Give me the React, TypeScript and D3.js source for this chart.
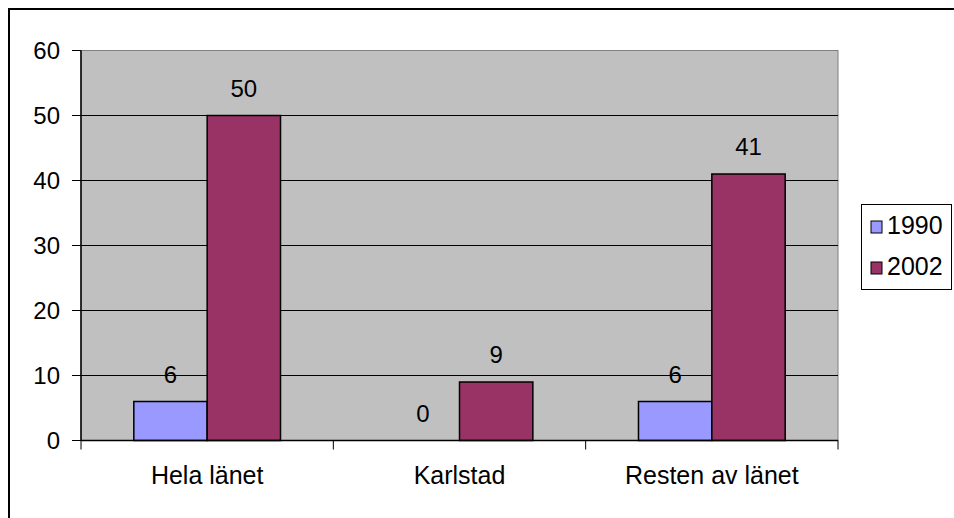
import React from "react";
import * as d3 from "d3";

const categories = ["Hela länet", "Karlstad", "Resten av länet"];
const series = ["1990", "2002"];
const values1990 = [6, 0, 6];
const values2002 = [50, 9, 41];
const yTicks = [0, 10, 20, 30, 40, 50, 60];
const colors = ["#9999FF", "#993366"];

const W = 954;
const H = 518;
const FONT = "Arial, 'Liberation Sans', sans-serif";

export default function App() {
  const left = 81, right = 838, top = 50.5, bottom = 440.5;
  const y = d3.scaleLinear().domain([0, 60]).range([bottom, top]);
  const x0 = d3.scaleBand<string>().domain(categories).range([left, right]).padding(0);
  const x1 = d3
    .scaleBand<string>()
    .domain(series)
    .range([0, x0.bandwidth()])
    .paddingInner(0)
    .paddingOuter(0.72);
  const data = [values1990, values2002];

  return (
    <svg
      width={W}
      height={H}
      style={{ position: "absolute", left: 0, top: 0, display: "block" }}
      fontFamily={FONT}
    >
      <rect x={0} y={0} width={W} height={H} fill="#fff" />
      <rect x={9} y={9} width={W + 20} height={H + 20} fill="none" stroke="#000" strokeWidth={2} />
      {/* plot area */}
      <rect x={left} y={top} width={right - left} height={bottom - top} fill="#C0C0C0" stroke="#808080" strokeWidth={1} />
      {yTicks.map((t) => (
        <g key={t}>
          {t > 0 && t < 60 && (
            <line x1={left} x2={right} y1={y(t)} y2={y(t)} stroke="#000" strokeWidth={1} />
          )}
          <line x1={left - 9} x2={left} y1={y(t)} y2={y(t)} stroke="#000" strokeWidth={1} />
          <text x={60} y={y(t)} dy="0.36em" textAnchor="end" fontSize={24} fill="#000">
            {t}
          </text>
        </g>
      ))}
      {/* bars */}
      {categories.map((c, i) =>
        series.map((s, j) => {
          const v = data[j][i];
          const bx = (x0(c) as number) + (x1(s) as number);
          const bw = x1.bandwidth();
          return (
            <g key={c + s}>
              {v > 0 && (
                <rect
                  x={bx}
                  y={y(v)}
                  width={bw}
                  height={bottom - y(v)}
                  fill={colors[j]}
                  stroke="#000"
                  strokeWidth={1.5}
                />
              )}
              <text x={bx + bw / 2} y={y(v) - 19} textAnchor="middle" fontSize={24} fill="#000">
                {v}
              </text>
            </g>
          );
        })
      )}
      {/* axes */}
      <line x1={left} x2={left} y1={top} y2={bottom} stroke="#000" strokeWidth={1.5} />
      <line x1={left} x2={right} y1={bottom} y2={bottom} stroke="#000" strokeWidth={1.5} />
      {[...categories.map((c) => x0(c) as number), right].map((xv, i) => (
        <line key={i} x1={xv} x2={xv} y1={bottom} y2={bottom + 9} stroke="#000" strokeWidth={1} />
      ))}
      {categories.map((c) => (
        <text
          key={c}
          x={(x0(c) as number) + x0.bandwidth() / 2}
          y={484}
          textAnchor="middle"
          fontSize={25}
          fill="#000"
        >
          {c}
        </text>
      ))}
      {/* legend */}
      <rect x={861.5} y={204.5} width={90} height={85} fill="#fff" stroke="#000" strokeWidth={1} />
      {series.map((s, j) => (
        <g key={s} transform={`translate(871, ${221 + j * 41})`}>
          <rect x={0} y={0} width={11} height={12} fill={colors[j]} stroke="#000" strokeWidth={1} />
          <text x={16} y={13} fontSize={25} fill="#000">
            {s}
          </text>
        </g>
      ))}
    </svg>
  );
}
